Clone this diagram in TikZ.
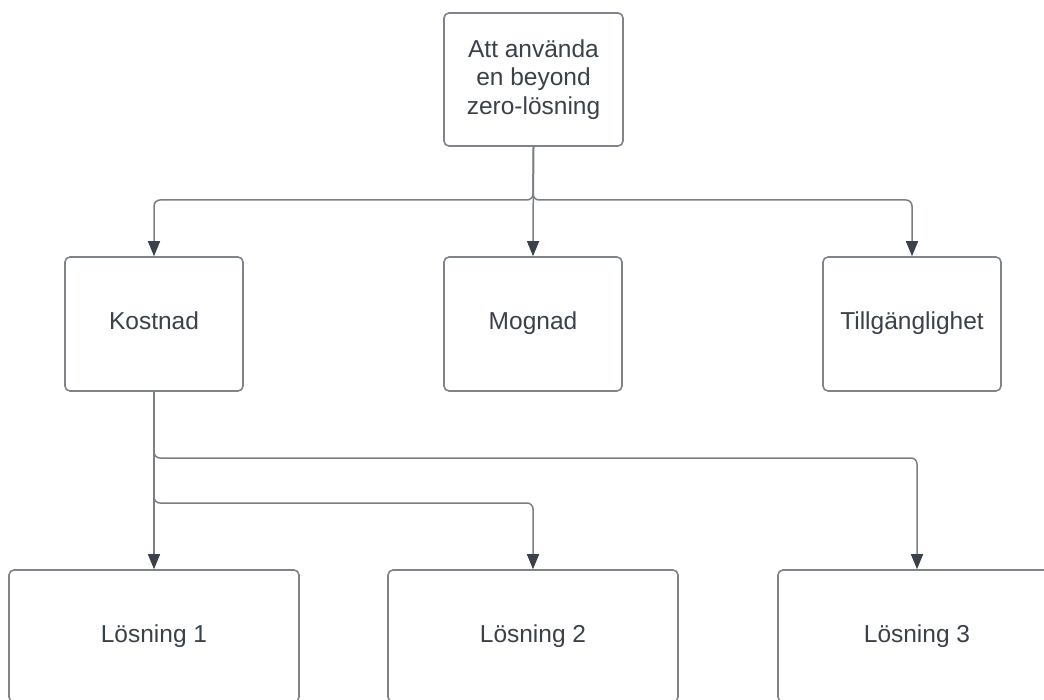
\documentclass[tikz,border=0pt]{standalone}
\usepackage{fontspec}
\setmainfont{Liberation Sans}
\usetikzlibrary{arrows.meta}
\definecolor{boxline}{HTML}{7F848B}
\definecolor{txtcol}{HTML}{3A414A}
\definecolor{conline}{HTML}{7A7F87}
\tikzset{
  boxnode/.style={draw=boxline, line width=1.6pt, rounded corners=5pt, fill=white,
    text=txtcol, align=center, inner sep=0pt,
    font=\fontsize{24.5}{28.5}\selectfont},
  oneline/.style={boxnode, text height=17.5pt, text depth=5.5pt},
  conn/.style={draw=conline, line width=1.5pt, rounded corners=6pt,
    -{Triangle[width=12pt,length=15pt,fill=txtcol,color=txtcol]}}
}
\begin{document}
\begin{tikzpicture}[x=1pt,y=-1pt]
\clip (0,0) rectangle (1044,700);
\fill[white] (0,0) rectangle (1044,700);

\node[boxnode, minimum width=179pt, minimum height=133pt] (top) at (533.5,79.5) {Att använda\\en beyond\\zero-lösning};

\node[oneline, minimum width=178pt, minimum height=134pt] (kost) at (154,324) {Kostnad};
\node[oneline, minimum width=178pt, minimum height=134pt] (mog) at (533,324) {Mognad};
\node[oneline, minimum width=178pt, minimum height=134pt] (till) at (912,324) {Tillgänglighet};

\node[oneline, minimum width=290pt, minimum height=132pt] (l1) at (154,636) {Lösning 1};
\node[oneline, minimum width=290pt, minimum height=132pt] (l2) at (533,636) {Lösning 2};
\node[oneline, minimum width=278pt, minimum height=132pt] (l3) at (917,636) {Lösning 3};

\coordinate (j1) at (533,200);
\coordinate (j2) at (154,458);
\coordinate (j3) at (154,503);

\draw[conn] (top.south) -- (j1) -| (kost.north);
\draw[conn] (top.south) -- (j1) -| (till.north);
\draw[conn] (top.south) -- (mog.north);

\draw[conn] (kost.south) -- (j2) -| (l3.north);
\draw[conn] (kost.south) -- (j3) -| (l2.north);
\draw[conn] (kost.south) -- (l1.north);
\end{tikzpicture}
\end{document}
